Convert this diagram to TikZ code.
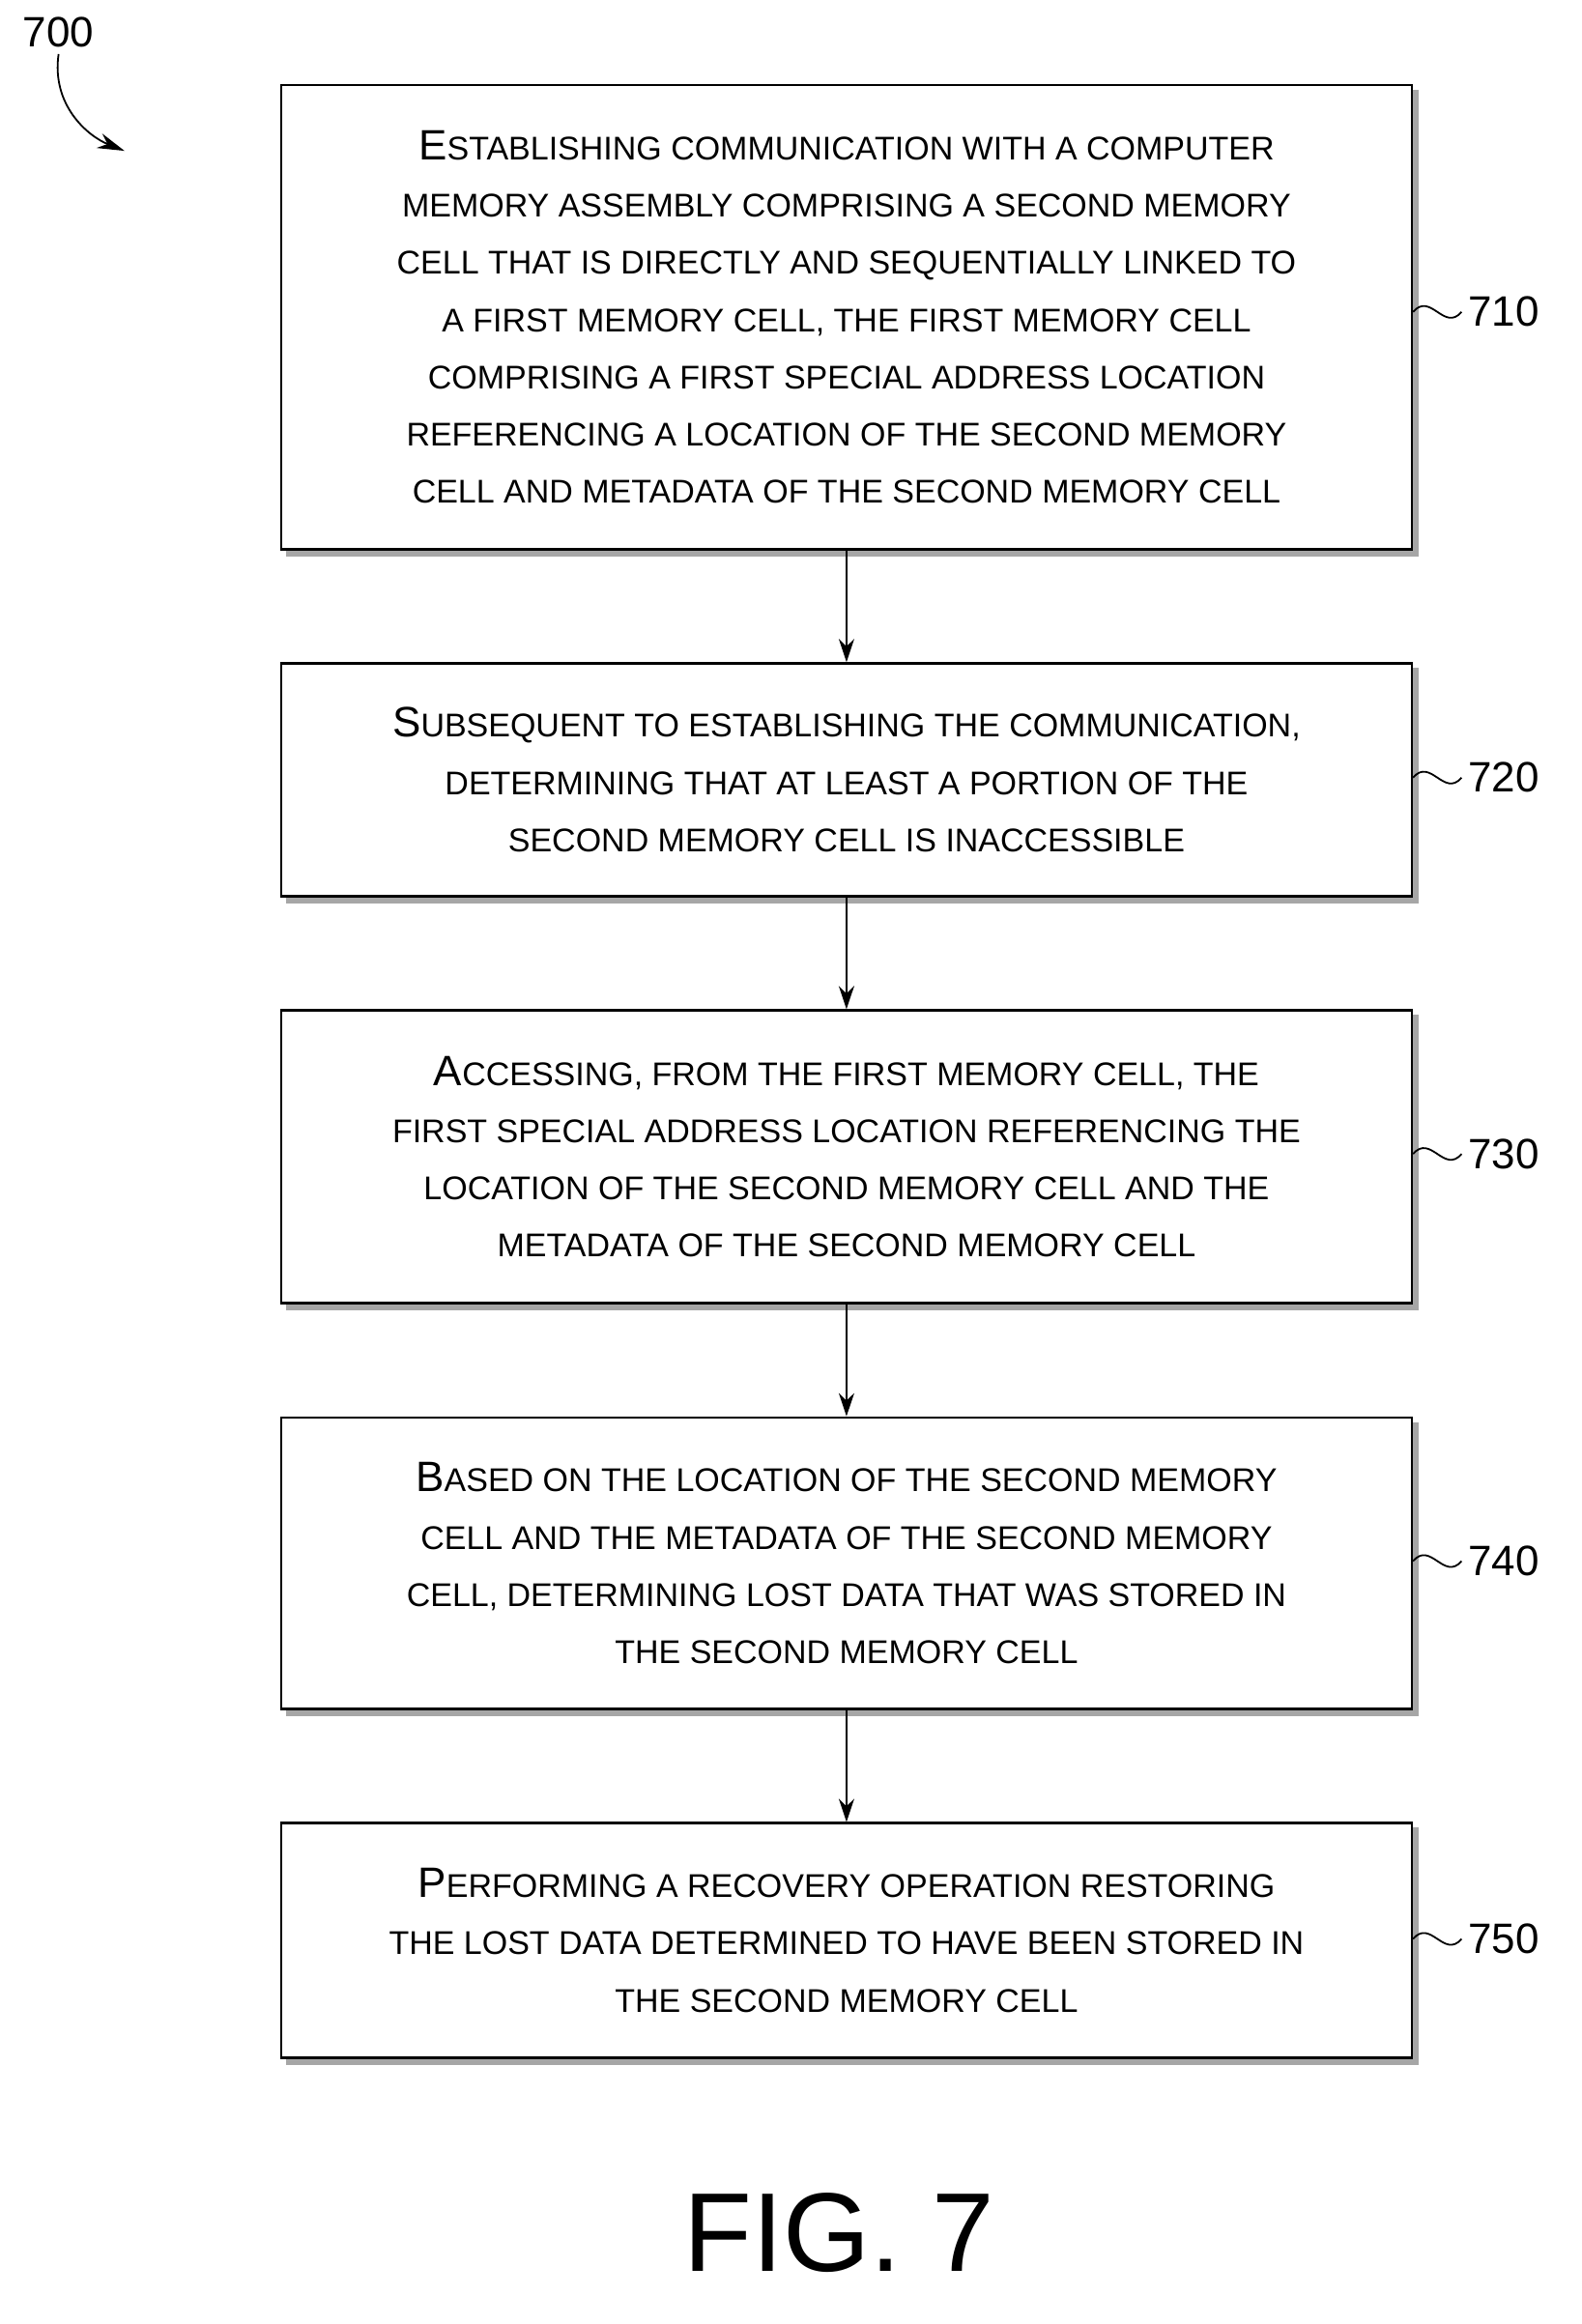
\documentclass[tikz,border=0pt]{standalone}
\usepackage{fontspec}
\setmainfont{Liberation Sans}
\usetikzlibrary{arrows.meta}
\newcommand\Bg[1]{{\fontsize{22}{29.6}\selectfont #1}}
\begin{document}
\begin{tikzpicture}[x=0.758pt,y=-0.758pt,
  box/.style={draw=black,line width=1.3pt,fill=white,minimum width=772*0.758pt,align=center,inner sep=0pt,font=\fontsize{17}{29.6}\selectfont,
   preaction={fill=gray!70,draw=gray!70,transform canvas={shift={(3pt,-3pt)}}}},
  lab/.style={font=\fontsize{22}{26}\selectfont},
  arr/.style={-{Stealth[length=12pt,width=8pt]},line width=1pt}]
\useasboundingbox (0,0) rectangle (1080,1587);
\node[box,minimum height=317*0.758pt] (b1) at (578,216.5) {\Bg{E}STABLISHING COMMUNICATION WITH A COMPUTER\\ MEMORY ASSEMBLY COMPRISING A SECOND MEMORY\\ CELL THAT IS DIRECTLY AND SEQUENTIALLY LINKED TO\\ A FIRST MEMORY CELL, THE FIRST MEMORY CELL\\ COMPRISING A FIRST SPECIAL ADDRESS LOCATION\\ REFERENCING A LOCATION OF THE SECOND MEMORY\\ CELL AND METADATA OF THE SECOND MEMORY CELL};
\node[box,minimum height=159*0.758pt] (b2) at (578,532.5) {\Bg{S}UBSEQUENT TO ESTABLISHING THE COMMUNICATION,\\ DETERMINING THAT AT LEAST A PORTION OF THE\\ SECOND MEMORY CELL IS INACCESSIBLE};
\node[box,minimum height=200*0.758pt] (b3) at (578,790) {\Bg{A}CCESSING, FROM THE FIRST MEMORY CELL, THE\\ FIRST SPECIAL ADDRESS LOCATION REFERENCING THE\\ LOCATION OF THE SECOND MEMORY CELL AND THE\\ METADATA OF THE SECOND MEMORY CELL};
\node[box,minimum height=199*0.758pt] (b4) at (578,1067.5) {\Bg{B}ASED ON THE LOCATION OF THE SECOND MEMORY\\ CELL AND THE METADATA OF THE SECOND MEMORY\\ CELL, DETERMINING LOST DATA THAT WAS STORED IN\\ THE SECOND MEMORY CELL};
\node[box,minimum height=160*0.758pt] (b5) at (578,1325) {\Bg{P}ERFORMING A RECOVERY OPERATION RESTORING\\ THE LOST DATA DETERMINED TO HAVE BEEN STORED IN\\ THE SECOND MEMORY CELL};
\foreach \a/\b in {b1/b2,b2/b3,b3/b4,b4/b5} \draw[arr] (\a.south) -- (\b.north);
\foreach \n/\y in {1/213,2/531,3/788,4/1066,5/1324}{
  \node[lab,anchor=west] (l\n) at (998,\y) {7\n0};
  \draw[line width=0.9pt] (b\n.east |- l\n.west) .. controls +(12,-14) and +(-12,14) .. (l\n.west);
}
\node[lab] (n700) at (40,22) {700};
\coordinate (t700) at (85,103);
\draw[line width=0.9pt,-{Stealth[length=14pt,width=8pt]}] (n700.south) .. controls +(-5,35) and +(-25,-10) .. (t700);
\node[font=\fontsize{58}{70}\selectfont] (fig) at (573,1525) {FIG. 7};
\end{tikzpicture}
\end{document}
